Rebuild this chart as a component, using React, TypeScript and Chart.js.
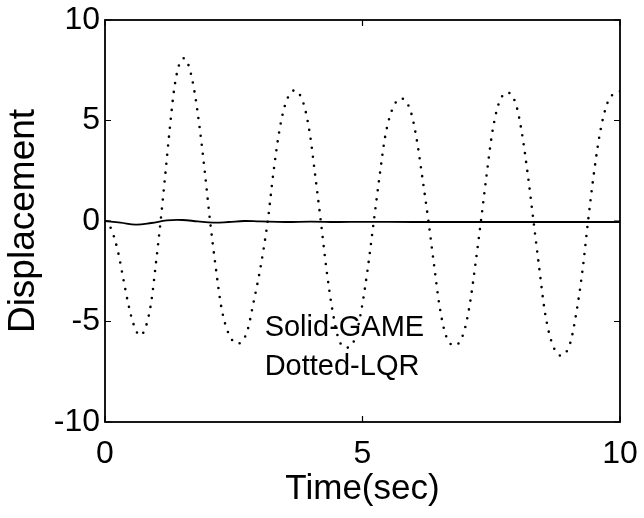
import React, { useEffect, useRef } from "react";
import { Chart, registerables } from "chart.js";

Chart.register(...registerables);

// LQR (dotted) response: time (s) and displacement
const lqrTime = [
  0.0, 0.12, 0.25, 0.35, 0.45, 0.55, 0.68, 0.8, 0.9, 0.98,
  1.08, 1.17, 1.25, 1.34, 1.43, 1.54, 1.64, 1.74, 1.84, 1.94,
  2.04, 2.14, 2.26, 2.4, 2.58, 2.76, 2.88, 3.02, 3.16, 3.27,
  3.38, 3.5, 3.68, 3.86, 3.98, 4.08, 4.19, 4.3, 4.42, 4.54,
  4.7, 4.86, 4.98, 5.1, 5.22, 5.33, 5.44, 5.57, 5.75, 5.93,
  6.05, 6.16, 6.28, 6.39, 6.5, 6.62, 6.79, 6.96, 7.08, 7.19,
  7.3, 7.41, 7.52, 7.64, 7.81, 7.98, 8.1, 8.21, 8.32, 8.43,
  8.54, 8.67, 8.85, 9.03, 9.15, 9.27, 9.38, 9.5, 9.62, 9.76,
  9.92, 10.0,
];
const lqrValues = [
  0.0, -0.4, -1.5, -2.8, -4.1, -5.1, -5.7, -5.2, -4.0, -2.3,
  0.0, 2.3, 4.4, 6.5, 7.7, 8.1, 7.6, 6.4, 4.6, 2.4,
  0.0, -2.1, -4.3, -5.6, -6.1, -5.5, -4.1, -2.3, 0.0, 2.4,
  4.4, 5.8, 6.5, 5.8, 4.3, 2.3, 0.0, -2.4, -4.5, -5.9,
  -6.3, -5.8, -4.4, -2.4, 0.0, 2.2, 4.2, 5.5, 6.1, 5.5,
  4.1, 2.2, 0.0, -2.2, -4.3, -5.7, -6.2, -5.6, -4.2, -2.2,
  0.0, 2.3, 4.4, 5.8, 6.4, 5.8, 4.3, 2.3, 0.0, -2.3,
  -4.5, -6.0, -6.7, -6.1, -4.6, -2.5, 0.0, 2.5, 4.5, 5.9,
  6.4, 6.45,
];

// GAME (solid) response
const gameTime = [0, 0.3, 0.6, 0.9, 1.2, 1.5, 1.8, 2.1, 2.4, 2.7, 3.0, 3.5, 4.0, 4.5, 5.0, 6.0, 7.0, 8.0, 9.0, 10.0];
const gameValues = [0, -0.08, -0.18, -0.1, 0.03, 0.05, -0.02, -0.08, -0.05, 0.0, -0.02, -0.05, -0.03, -0.05, -0.04, -0.05, -0.05, -0.05, -0.05, -0.05];

const xTicks = [0, 5, 10];
const yTicks = [-10, -5, 0, 5, 10];

const xTitle = "Time(sec)";
const yTitle = "Displacement";
const noteLines = ["Solid-GAME", "Dotted-LQR"];
const noteX = 3.1;
const noteY = [-5.7, -7.65];

const FONT = "'Liberation Sans', Arial, Helvetica, sans-serif";

const framePlugin = {
  id: "frame",
  afterDatasetsDraw(chart: any) {
    const { ctx, chartArea, scales } = chart;
    const { left, right, top, bottom } = chartArea;
    const xs = scales.x;
    const ys = scales.y;
    ctx.save();
    ctx.strokeStyle = "#000";
    ctx.lineWidth = 1.8;
    ctx.strokeRect(left, top, right - left, bottom - top);
    const tl = 6;
    ctx.beginPath();
    xTicks.forEach((v) => {
      const px = xs.getPixelForValue(v);
      ctx.moveTo(px, bottom);
      ctx.lineTo(px, bottom - tl);
      ctx.moveTo(px, top);
      ctx.lineTo(px, top + tl);
    });
    yTicks.forEach((v) => {
      const py = ys.getPixelForValue(v);
      ctx.moveTo(left, py);
      ctx.lineTo(left + tl, py);
      ctx.moveTo(right, py);
      ctx.lineTo(right - tl, py);
    });
    ctx.lineWidth = 1.2;
    ctx.stroke();

    ctx.fillStyle = "#000";
    ctx.font = `29px ${FONT}`;
    ctx.textAlign = "left";
    ctx.textBaseline = "alphabetic";
    noteLines.forEach((t, i) => {
      ctx.fillText(t, xs.getPixelForValue(noteX), ys.getPixelForValue(noteY[i]));
    });
    ctx.restore();
  },
};

export default function App() {
  const ref = useRef<HTMLCanvasElement | null>(null);
  useEffect(() => {
    document.body.style.margin = "0";
    const canvas = ref.current;
    if (!canvas) return;
    const chart = new Chart(canvas, {
      type: "line",
      data: {
        datasets: [
          {
            label: "LQR",
            data: lqrTime.map((t, i) => ({ x: t, y: lqrValues[i] })),
            borderColor: "#000",
            borderWidth: 2.6,
            borderDash: [0, 9],
            borderCapStyle: "round",
            pointRadius: 0,
            cubicInterpolationMode: "monotone",
            fill: false,
          },
          {
            label: "GAME",
            data: gameTime.map((t, i) => ({ x: t, y: gameValues[i] })),
            borderColor: "#000",
            borderWidth: 1.8,
            pointRadius: 0,
            tension: 0.4,
            fill: false,
          },
        ],
      },
      options: {
        animation: false,
        responsive: false,
        devicePixelRatio: 1,
        layout: { padding: { top: 20, right: 24, left: 0, bottom: 0 } },
        plugins: {
          legend: { display: false },
          tooltip: { enabled: false },
        },
        scales: {
          x: {
            type: "linear",
            min: 0,
            max: 10,
            afterFit: (s: any) => {
              s.height = 96;
              s.paddingLeft = 0;
              s.paddingRight = 0;
            },
            afterBuildTicks: (s: any) => {
              s.ticks = xTicks.map((v) => ({ value: v }));
            },
            grid: { display: false, drawTicks: false },
            border: { display: false },
            ticks: {
              color: "#000",
              font: { family: FONT, size: 32 },
              padding: 13,
              maxRotation: 0,
            },
            title: {
              display: true,
              text: xTitle,
              color: "#000",
              font: { family: FONT, size: 35 },
              padding: { top: 0, bottom: 8 },
            },
          },
          y: {
            type: "linear",
            min: -10,
            max: 10,
            afterFit: (s: any) => {
              s.width = 105;
              s.paddingTop = 0;
              s.paddingBottom = 0;
            },
            afterBuildTicks: (s: any) => {
              s.ticks = yTicks.map((v) => ({ value: v }));
            },
            grid: { display: false, drawTicks: false },
            border: { display: false },
            ticks: {
              color: "#000",
              font: { family: FONT, size: 32 },
              padding: 5,
            },
            title: {
              display: true,
              text: yTitle,
              color: "#000",
              font: { family: FONT, size: 37 },
              padding: { top: 2, bottom: 0 },
            },
          },
        },
      },
      plugins: [framePlugin],
    } as any);
    return () => chart.destroy();
  }, []);
  return (
    <div style={{ position: "absolute", left: 0, top: 0, width: 644, height: 518 }}>
      <canvas ref={ref} width={644} height={518} />
    </div>
  );
}
